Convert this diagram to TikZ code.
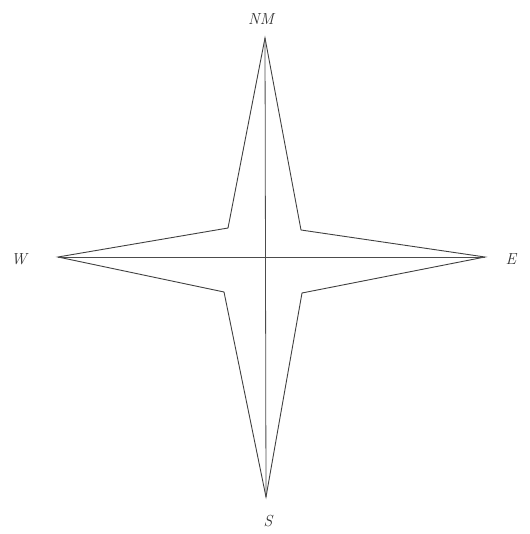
\documentclass[tikz,border=0pt]{standalone}
\begin{document}
\begin{tikzpicture}[x=1pt,y=-1pt,
  outline/.style={draw=black!75,line width=0.9pt,line join=miter},
  axis/.style={draw=black!70,line width=0.8pt},
  lbl/.style={font=\fontsize{16}{18}\selectfont\itshape,text=black!80,inner sep=0pt}]
\useasboundingbox (0,0) rectangle (529,534);
\coordinate (N) at (265,38);
\coordinate (S) at (266,497);
\coordinate (Wt) at (58,257);
\coordinate (Et) at (485,257);
\coordinate (NE) at (301,230);
\coordinate (NW) at (228,228);
\coordinate (SE) at (302,293);
\coordinate (SW) at (224,292);
\draw[outline] (N) -- (NE) -- (Et) -- (SE) -- (S) -- (SW) -- (Wt) -- (NW) -- cycle;
\draw[axis] (N) -- (S);
\draw[axis] (Wt) -- (Et);
\node[lbl] (nm) at (261,19) {NM};
\node[lbl] (w) at (19,259) {W};
\node[lbl] (e) at (511,259) {E};
\node[lbl] (s) at (268,521) {S};
\end{tikzpicture}
\end{document}
